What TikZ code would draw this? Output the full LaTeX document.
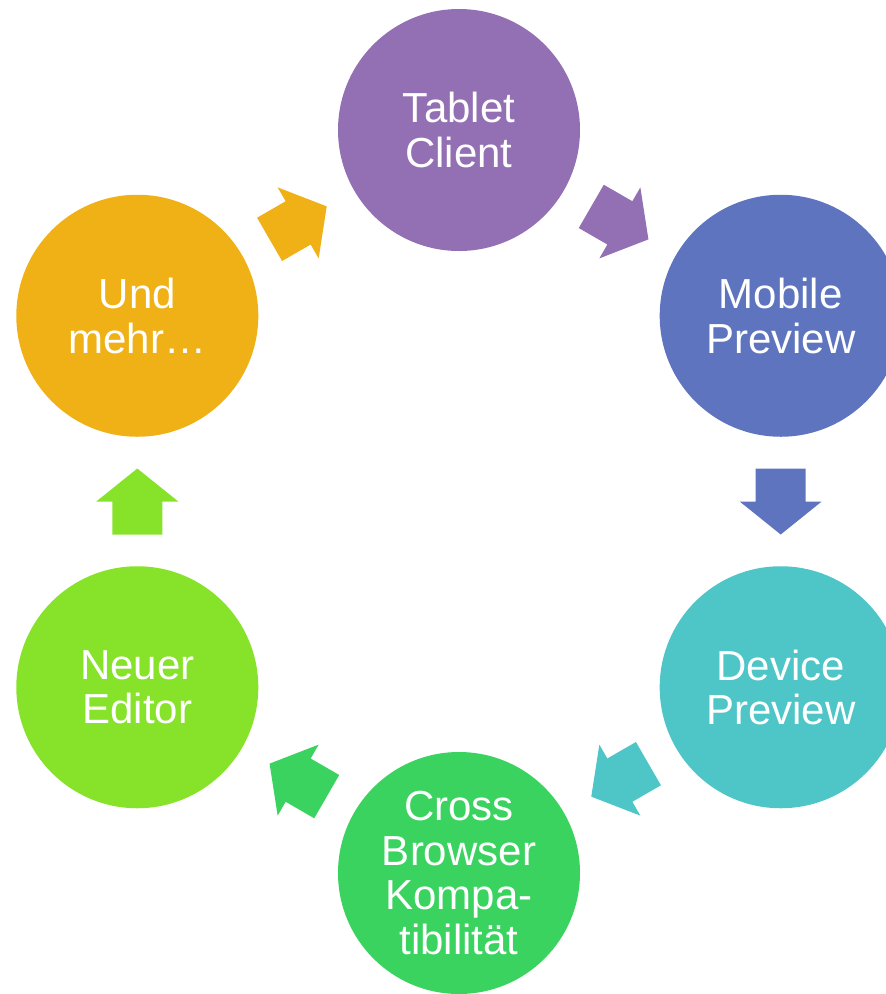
\documentclass[tikz,border=0pt]{standalone}
\usepackage{fontspec}
\setmainfont{Liberation Sans}
\usetikzlibrary{calc}
\definecolor{cpurple}{HTML}{9370B3}
\definecolor{cblue}{HTML}{5E74BE}
\definecolor{cteal}{HTML}{4EC5C7}
\definecolor{cgreen}{HTML}{3AD35F}
\definecolor{clime}{HTML}{87E22A}
\definecolor{corange}{HTML}{EFB115}
\tikzset{
  stage/.style={circle, minimum size=242pt, inner sep=0pt, draw=none, fill=#1,
    text=white, align=center, font=\fontsize{42pt}{44.5pt}\selectfont},
}
\newcommand\blockarr[3]{%
  \path let \p1=($(#3)-(#2)$) in \pgfextra{\pgfmathsetmacro\arrang{atan2(\y1,\x1)}\xdef\arrang{\arrang}};
  \fill[#1, shift={($(#2)!0.5!(#3)$)}, rotate=\arrang]
    (-33,-25) -- (0,-25) -- (0,-41) -- (33,0) -- (0,41) -- (0,25) -- (-33,25) -- cycle;
}
\begin{document}
\begin{tikzpicture}[x=1pt, y=-1pt]
\useasboundingbox (0,0) rectangle (886,994);
\node[stage=cpurple] (tab) at (459,130) {Tablet\\Client};
\node[stage=cblue] (mob) at (780.7,315.75) {Mobile\\Preview};
\node[stage=cteal] (dev) at (780.7,687.25) {Device\\Preview};
\node[stage=cgreen] (cro) at (459,873) {Cross\\Browser\\Kompa-\\tibilität};
\node[stage=clime] (neu) at (137.3,687.25) {Neuer\\Editor};
\node[stage=corange] (und) at (137.3,315.75) {Und\\mehr…};
\blockarr{cpurple}{tab}{mob}
\blockarr{cblue}{mob}{dev}
\blockarr{cteal}{dev}{cro}
\blockarr{cgreen}{cro}{neu}
\blockarr{clime}{neu}{und}
\blockarr{corange}{und}{tab}
\end{tikzpicture}
\end{document}
